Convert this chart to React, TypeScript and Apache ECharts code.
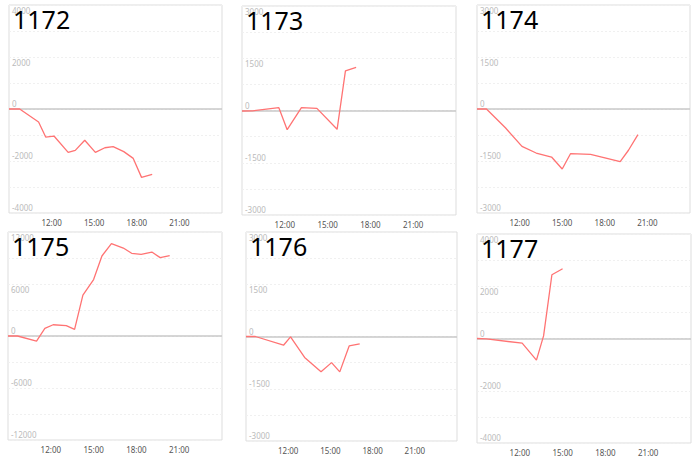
import React, { useEffect, useRef } from "react";
import * as echarts from "echarts";

// ---- data ----
const names = ["1172", "1173", "1174", "1175", "1176", "1177"];

const t1172 = ["09:00", "09:45", "11:05", "11:35", "12:10", "13:10", "13:40", "14:20", "15:05", "15:45", "16:20", "17:05", "17:45", "18:20", "19:05"];
const v1172 = [0, 0, -500, -1080, -1040, -1670, -1590, -1200, -1670, -1490, -1450, -1640, -1900, -2630, -2510];

const t1173 = ["09:00", "09:45", "11:35", "12:10", "13:10", "14:15", "15:40", "16:15", "17:00"];
const v1173 = [-15, -10, 80, -550, 80, 60, -540, 1140, 1240];

const t1174 = ["09:00", "09:40", "11:00", "12:10", "13:10", "14:15", "15:00", "15:35", "17:00", "19:05", "19:40", "20:20"];
const v1174 = [0, 0, -540, -1080, -1270, -1385, -1730, -1290, -1310, -1520, -1190, -740];

const t1175 = ["09:00", "09:40", "11:00", "11:35", "12:10", "13:05", "13:40", "14:15", "15:00", "15:35", "16:15", "17:05", "17:40", "18:20", "19:05", "19:40", "20:20"];
const v1175 = [0, 0, -580, 880, 1300, 1190, 770, 4710, 6510, 9230, 10650, 10150, 9540, 9430, 9690, 9040, 9270];

const t1176 = ["09:00", "09:40", "11:40", "12:10", "13:10", "14:20", "15:05", "15:40", "16:20", "17:05"];
const v1176 = [0, 0, -250, -10, -600, -1015, -750, -1015, -270, -210];

const t1177 = ["09:00", "09:40", "12:10", "13:10", "13:40", "14:15", "15:00"];
const v1177 = [0, -15, -180, -830, 100, 2440, 2670];

const times = [t1172, t1173, t1174, t1175, t1176, t1177];
const values = [v1172, v1173, v1174, v1175, v1176, v1177];
const yMax = [4000, 3000, 3000, 12000, 3000, 4000];

const xMinHour = 9;
const xMaxHour = 24;
const xStepHour = 3;

// ---- layout ----
const grids = [
  { left: 9, top: 5, width: 213, height: 208 },
  { left: 242, top: 6, width: 214, height: 209 },
  { left: 477, top: 5, width: 213, height: 208 },
  { left: 8, top: 232, width: 214, height: 208 },
  { left: 246, top: 232, width: 211, height: 209 },
  { left: 477, top: 234, width: 214, height: 209 },
];

const toHours = (s: string) => {
  const [h, m] = s.split(":").map(Number);
  return h + m / 60;
};

const FONT = "'Noto Sans', 'Open Sans', sans-serif";

export default function App() {
  const ref = useRef<HTMLDivElement>(null);

  useEffect(() => {
    if (!ref.current) return;
    const chart = echarts.init(ref.current, undefined, { renderer: "svg" });

    const option: any = {
      animation: false,
      backgroundColor: "#fff",
      title: names.map((n, i) => ({
        text: n,
        left: grids[i].left + 4,
        top: grids[i].top + 1,
        padding: 0,
        textStyle: { fontSize: 25, fontWeight: "normal", color: "#000", fontFamily: FONT },
      })),
      grid: grids.map((g) => ({
        ...g,
        show: true,
        borderColor: "#ddd",
        borderWidth: 1,
        containLabel: false,
      })),
      xAxis: names.map((_, i) => ({
        type: "value",
        gridIndex: i,
        min: xMinHour,
        max: xMaxHour,
        interval: xStepHour,
        axisLine: { show: false, onZero: false },
        axisTick: { show: false },
        splitLine: { show: false },
        axisLabel: {
          showMinLabel: false,
          showMaxLabel: false,
          formatter: (v: number) => `${v}:00`,
          color: "#555",
          fontSize: 8,
          fontFamily: FONT,
          margin: 5,
        },
      })),
      yAxis: names.map((_, i) => {
        const step = yMax[i] / 4;
        return {
          type: "value",
          gridIndex: i,
          min: -yMax[i],
          max: yMax[i],
          interval: step,
          axisLine: { show: false },
          axisTick: { show: false },
          splitLine: { show: true, lineStyle: { color: "#f0f0f0", type: [2, 2], width: 1 } },
          axisLabel: {
            inside: true,
            margin: 3,
            formatter: (v: number) => {
              if (Math.round(v / step) % 2 !== 0) return "";
              return v > 0 ? `{dn|${v}}` : `{up|${v}}`;
            },
            rich: {
              dn: { color: "#bbb", fontSize: 8, fontFamily: FONT, padding: [11, 0, 0, 0] },
              up: { color: "#bbb", fontSize: 8, fontFamily: FONT, padding: [0, 0, 11, 0] },
            },
          },
        };
      }),
      series: names.map((n, i) => ({
        name: n,
        type: "line",
        xAxisIndex: i,
        yAxisIndex: i,
        data: times[i].map((t, j) => [toHours(t), values[i][j]]),
        showSymbol: false,
        symbol: "none",
        lineStyle: { color: "#ff7373", width: 1.3 },
        itemStyle: { color: "#ff7373" },
        z: 3,
        markLine: {
          silent: true,
          symbol: "none",
          label: { show: false },
          lineStyle: { color: "#c8c8c8", width: 1.5, type: "solid" },
          data: [{ yAxis: 0 }],
          z: 2,
        },
      })),
    };

    chart.setOption(option);
    return () => chart.dispose();
  }, []);

  return (
    <div
      ref={ref}
      style={{ position: "fixed", left: 0, top: 0, width: 700, height: 456, background: "#fff" }}
    />
  );
}
